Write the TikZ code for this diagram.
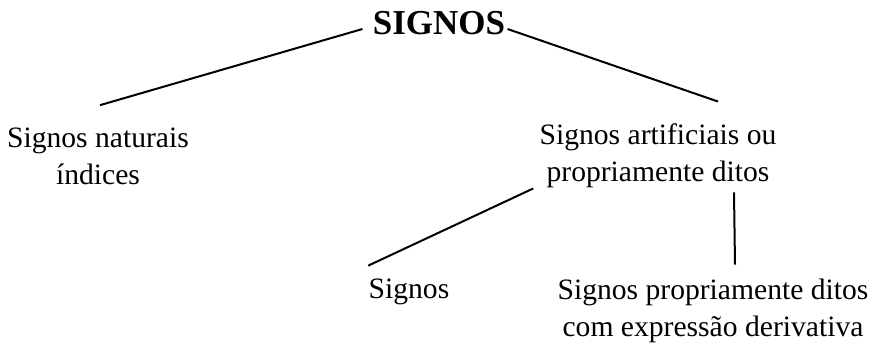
\documentclass[tikz,border=0pt]{standalone}
\usepackage{fontspec}
\setmainfont{Liberation Serif}
\tikzset{
  leaf/.style = {align=center, inner sep=0pt, font=\fontsize{14.8}{18.5}\selectfont}
}

\begin{document}
\begin{tikzpicture}[x=0.5pt,y=-0.5pt]
  \useasboundingbox (0,0) rectangle (878,343);
  \node[leaf,font=\fontsize{17.5}{20}\selectfont\bfseries] (root) at (439,23) {SIGNOS};
  \node[leaf] (nat) at (98,156) {Signos naturais\\índices};
  \node[leaf] (art) at (658,156) {Signos artificiais ou\\propriamente ditos};
  \node[leaf] (sig) at (409,292) {Signos};
  \node[leaf] (prop) at (713,311) {Signos propriamente ditos\\com expressão derivativa};
  \draw[line width=1pt] ([xshift=-5pt,yshift=-3pt]root.west) -- ([xshift=1pt,yshift=11pt]nat.north);
  \draw[line width=1pt] ([xshift=1pt,yshift=-3pt]root.east) -- ([xshift=30pt,yshift=11pt]art.north);
  \draw[line width=1pt] ([xshift=-3pt,yshift=0pt]art.south west) -- ([xshift=0pt,yshift=6.5pt]sig.north west);
  \draw[line width=1pt] ([xshift=38pt,yshift=-2pt]art.south) -- ([xshift=11pt,yshift=7pt]prop.north);
\end{tikzpicture}
\end{document}
